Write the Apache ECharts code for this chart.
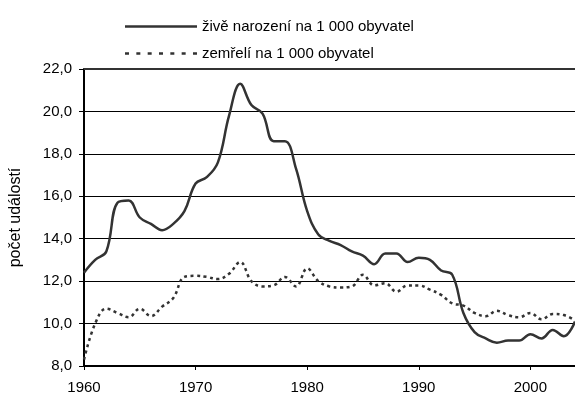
<!DOCTYPE html>
<html>
<head>
<meta charset="utf-8">
<script src="https://cdn.jsdelivr.net/npm/echarts@6/dist/echarts.min.js"></script>
<style>
    html, body { margin: 0; padding: 0; background: #fff; }
    .tu1 { width: 575px; height: 400px; }
</style>
</head>
<body>
<div class="tu1"></div>
<script>
var years = [1960, 1961, 1962, 1963, 1964, 1965, 1966, 1967, 1968, 1969,
    1970, 1971, 1972, 1973, 1974, 1975, 1976, 1977, 1978, 1979,
    1980, 1981, 1982, 1983, 1984, 1985, 1986, 1987, 1988, 1989,
    1990, 1991, 1992, 1993, 1994, 1995, 1996, 1997, 1998, 1999,
    2000, 2001, 2002, 2003, 2004];
// živě narození na 1 000 obyvatel
var births = [12.4, 13.0, 13.4, 15.7, 15.8, 15.0, 14.7, 14.4, 14.7, 15.3,
    16.6, 16.9, 17.6, 19.8, 21.3, 20.3, 19.9, 18.6, 18.6, 17.3,
    15.3, 14.2, 13.9, 13.7, 13.4, 13.2, 12.8, 13.3, 13.3, 12.9,
    13.1, 13.0, 12.5, 12.3, 10.5, 9.6, 9.3, 9.1, 9.2, 9.2,
    9.5, 9.3, 9.7, 9.4, 10.1];
// zemřelí na 1 000 obyvatel
var deaths = [8.3, 10.0, 10.7, 10.5, 10.3, 10.7, 10.35, 10.8, 11.2, 12.2,
    12.25, 12.2, 12.1, 12.35, 12.9, 12.0, 11.75, 11.8, 12.2, 11.75,
    12.6, 12.0, 11.75, 11.7, 11.75, 12.3, 11.8, 11.9, 11.5, 11.8,
    11.8, 11.6, 11.35, 10.95, 10.85, 10.5, 10.35, 10.6, 10.4, 10.3,
    10.5, 10.2, 10.45, 10.4, 10.15];
var xTicks = [1960, 1970, 1980, 1990, 2000];
var seriesNames = ['živě narození na 1 000 obyvatel', 'zemřelí na 1 000 obyvatel'];
var yName = 'počet událostí';

(function(){
    var myChart1 = echarts.init(document.querySelector('.tu1'));

    function pairs(vals) {
        var out = [];
        for (var i = 0; i < years.length; i++) {
            out.push([years[i], vals[i]]);
        }
        return out;
    }

    var font = 'Liberation Sans, Arial, sans-serif';

    // legend icons: a plain bar and a row of short dashes
    var solidIcon = 'path://M0,0H72V2.5H0Z';
    var dashIcon = 'path://';
    for (var d = 0; d < 7; d++) {
        dashIcon += 'M' + (d * 11.33).toFixed(2) + ',0h4v2.5h-4Z';
    }

    var option1 = {
        animation: false,
        textStyle: { fontFamily: font },
        legend: {
            orient: 'vertical',
            left: 120,
            top: 14,
            itemWidth: 72,
            itemHeight: 2.5,
            itemGap: 12,
            textStyle: {
                color: '#000',
                fontSize: 15,
                fontFamily: font
            },
            data: [
                { name: seriesNames[0], icon: solidIcon },
                { name: seriesNames[1], icon: dashIcon }
            ]
        },
        grid: {
            left: 80,
            right: 0,
            top: 69,
            bottom: 34
        },
        xAxis: [{
            type: 'value',
            min: 1960,
            max: 2004,
            interval: 10,
            splitLine: { show: false },
            axisLine: {
                show: true,
                lineStyle: { color: '#000', width: 2 }
            },
            axisTick: {
                show: true,
                length: 4,
                customValues: xTicks,
                lineStyle: { color: '#000', width: 1 }
            },
            axisLabel: {
                color: '#000',
                fontSize: 15,
                margin: 14,
                fontFamily: font,
                customValues: xTicks,
                formatter: function (v) {
                    return String(v);
                }
            }
        }, {
            type: 'value',
            position: 'top',
            min: 1960,
            max: 2004,
            axisLine: {
                show: true,
                lineStyle: { color: '#333', width: 2 }
            },
            axisTick: { show: false },
            axisLabel: { show: false },
            splitLine: { show: false }
        }],
        yAxis: {
            type: 'value',
            min: 8,
            max: 22,
            interval: 2,
            name: yName,
            nameLocation: 'middle',
            nameGap: 60,
            nameTextStyle: {
                color: '#000',
                fontSize: 16,
                fontFamily: font
            },
            axisLine: {
                show: true,
                lineStyle: { color: '#000', width: 2 }
            },
            axisTick: {
                show: true,
                length: 5,
                lineStyle: { color: '#000', width: 1 }
            },
            axisLabel: {
                color: '#000',
                fontSize: 15,
                margin: 12,
                fontFamily: font,
                formatter: function (v) {
                    return v.toFixed(1).replace('.', ',');
                }
            },
            splitLine: {
                show: true,
                lineStyle: { color: '#000', width: 1 }
            }
        },
        series: [{
            name: seriesNames[0],
            type: 'line',
            smooth: 0.4,
            symbol: 'none',
            data: pairs(births),
            lineStyle: { color: '#333', width: 2.5 },
            itemStyle: { color: '#333' }
        }, {
            name: seriesNames[1],
            type: 'line',
            smooth: 0.4,
            symbol: 'none',
            data: pairs(deaths),
            lineStyle: { color: '#333', width: 2.5, type: [3, 3.5] },
            itemStyle: { color: '#333' }
        }]
    };

    myChart1.setOption(option1);

    window.addEventListener('resize', function() {
        myChart1.resize();
    });
})();
</script>
</body>
</html>
